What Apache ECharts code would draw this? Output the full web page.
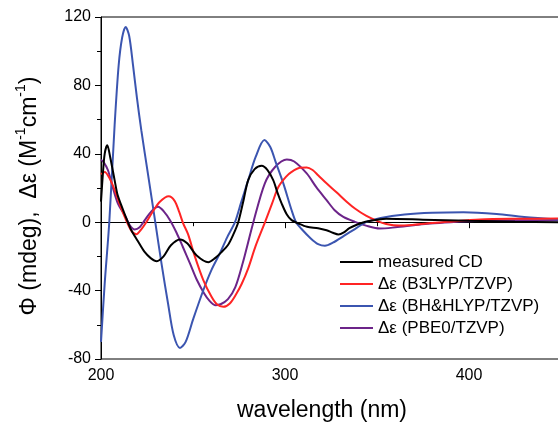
<!DOCTYPE html>
<html>
<head>
<meta charset="utf-8">
<script src="https://cdn.jsdelivr.net/npm/echarts@6/dist/echarts.min.js"></script>
<style>html,body{margin:0;padding:0;background:#fff;}#c{width:558px;height:422px;}</style>
</head>
<body>
<div id="c"></div>
<script>
var seriesNames = ['measured CD', 'Δε (B3LYP/TZVP)', 'Δε (BH&HLYP/TZVP)', 'Δε (PBE0/TZVP)'];
var xTickLabels = ['200', '300', '400'];
var yTickLabels = ['-80', '-40', '0', '40', '80', '120'];

var measuredCD = [[200,12],[201,28],[202,40],[203.4,45],[205,38],[207.4,24.6],[209,16],[211,10],[213.5,3],[216.5,-4.7],[220,-11],[223.7,-17.4],[227,-21],[230.3,-22.8],[234,-20],[238,-13.5],[242.9,-10.1],[247,-12.5],[252,-19.5],[258.3,-23.4],[262,-21],[265.5,-17.5],[269.2,-13],[272,-7],[274.6,0],[277.5,13],[280,24.6],[283.5,31],[287.3,33],[290.5,30.5],[293.6,24.6],[296,17],[298.2,10.9],[301,4.5],[303.6,1.2],[307,-0.6],[312,-2.7],[318,-3.5],[322.6,-4.7],[326,-6.2],[329,-7.2],[332,-6],[335,-3.5],[339,-1.5],[345,0.5],[355,2],[375,1.5],[400,0.8],[425,0.3],[450,0]];

var b3lyp = [[200,28],[202,29.4],[204.5,26],[207,20],[210,11],[212.9,3.1],[216.5,-5],[219.2,-7],[222,-4],[224.6,0],[228,6],[232,12],[236.8,15.2],[240,12.5],[242.5,6],[244.7,-0.8],[247.3,-7],[251,-20],[255.6,-33.9],[260,-43.5],[263,-48],[266.5,-49.5],[270,-47.5],[273.5,-42],[276.5,-36],[280,-27],[284,-14],[289.3,0.5],[293,11],[296.4,20.6],[300.5,26.5],[303.6,29.4],[308,31.8],[311.8,32],[315,30.5],[318,27.5],[322.7,22.6],[328,17.5],[333.5,12],[338,8],[344,3.8],[350,0.8],[355,-1],[362,-2],[370,-1.5],[380,-0.5],[388,0.2],[406,1.6],[425,2],[450,2.1]];

var bhhlyp = [[200,-70],[202,-36],[204.5,0],[207.4,56.7],[209.6,91.8],[211.5,108],[213.4,114.2],[215.3,109],[217.4,91.8],[219.5,73],[221.9,53.8],[225.7,27],[229.5,0],[233,-25],[236.5,-48],[239.5,-66],[242.9,-73.5],[246,-70],[250,-57],[255.6,-39.8],[260,-28],[264.7,-18],[268.5,-9],[272.8,0],[276,11],[280,24.6],[284,38],[288.8,48],[292,44],[295,35],[299,23],[303.6,7],[306,0],[309,-4],[314,-9.5],[318,-12.8],[321.7,-13.8],[326,-12],[332,-8],[338,-4],[344,0],[352,2.5],[365,4.5],[380,5.5],[397,5.8],[415,4.8],[430,3],[450,1.5]];

var pbe0 = [[200,36.5],[201.5,35],[203.8,30.4],[206.5,20],[209.2,10.9],[212.9,4.1],[215.5,-1.5],[218.3,-4.3],[221,-3],[224,1.5],[227.5,6.5],[231,9],[234,6.5],[237.5,1.2],[241,-6],[244.5,-14.5],[248.4,-24.2],[252,-33.5],[256,-41.5],[259,-46],[262,-48.5],[265,-48],[269,-45],[273,-38],[277,-24],[282.8,0],[289,22.6],[294.6,32.3],[301,36.7],[305,35.5],[311.8,28.5],[317,20.5],[322.6,12.9],[327,7],[331.7,3.1],[338,0.2],[344,-2],[351.6,-3.7],[360,-3],[370,-1.8],[378.8,-0.8],[390,0],[406,0.8],[425,1.1],[450,1.2]];

var colors = ['#000000', '#ff2424', '#3b55b0', '#6c2489'];
var seriesData = [measuredCD, b3lyp, bhhlyp, pbe0];

var chart = echarts.init(document.getElementById('c'), null, {renderer: 'canvas'});
var series = seriesData.map(function (d, i) {
  var s = {
    name: seriesNames[i],
    type: 'line',
    data: d,
    smooth: 0.3,
    symbol: 'none',
    z: 10 - i,
    lineStyle: {color: colors[i], width: 2},
    itemStyle: {color: colors[i]}
  };
  if (i === 0) {
    s.markLine = {
      silent: true,
      symbol: 'none',
      label: {show: false},
      lineStyle: {color: '#000', width: 1.2, type: 'solid'},
      data: [{yAxis: 0}]
    };
  }
  return s;
});

chart.setOption({
  animation: false,
  backgroundColor: '#fff',
  textStyle: {fontFamily: 'Liberation Sans, Arial, sans-serif'},
  grid: {left: 101, top: 17, right: -3, bottom: 63, show: true, borderColor: '#000', borderWidth: 1,
    containLabel: false, outerBoundsMode: 'none'},
  legend: {
    orient: 'vertical',
    left: 340, top: 253, padding: 0,
    itemWidth: 33, itemHeight: 14, itemGap: 4,
    icon: 'path://M0,6L33,6L33,8L0,8Z',
    textStyle: {fontSize: 17, color: '#000', lineHeight: 18},
    data: seriesNames.map(function (n, i) { return {name: n, itemStyle: {color: colors[i]}}; })
  },
  xAxis: {
    type: 'value', min: 200, max: 450, interval: 100,
    name: 'wavelength (nm)', nameLocation: 'middle', nameGap: 40,
    nameTextStyle: {fontSize: 23, color: '#000', padding: [0, 18, 0, 0]},
    axisLine: {show: true, lineStyle: {color: '#000', width: 1}},
    axisTick: {show: true, length: 6, lineStyle: {color: '#000'}},
    minorTick: {show: true, splitNumber: 2, length: 4, lineStyle: {color: '#000'}},
    splitLine: {show: false},
    axisLabel: {fontSize: 16, color: '#000', margin: 9, showMaxLabel: false,
      formatter: function (v) { var s = String(v); return xTickLabels.indexOf(s) >= 0 ? s : ''; }}
  },
  yAxis: {
    type: 'value', min: -80, max: 120, interval: 40,
    name: '{n|Φ (mdeg),  Δε (M}{s|-1}{n|cm}{s|-1}{n|)}', nameLocation: 'middle', nameGap: 60,
    nameTextStyle: {color: '#000', padding: [0, 16, 0, 0],
      rich: {n: {fontSize: 23, color: '#000', lineHeight: 27, verticalAlign: 'bottom'}, s: {fontSize: 14, color: '#000', verticalAlign: 'top', lineHeight: 15}}},
    axisLine: {show: true, lineStyle: {color: '#000', width: 1}},
    axisTick: {show: true, length: 6, lineStyle: {color: '#000'}},
    minorTick: {show: true, splitNumber: 2, length: 4, lineStyle: {color: '#000'}},
    splitLine: {show: false},
    axisLabel: {fontSize: 16, color: '#000', margin: 10,
      formatter: function (v) { var s = String(v); return yTickLabels.indexOf(s) >= 0 ? s : ''; }}
  },
  series: series
});
</script>
</body>
</html>
